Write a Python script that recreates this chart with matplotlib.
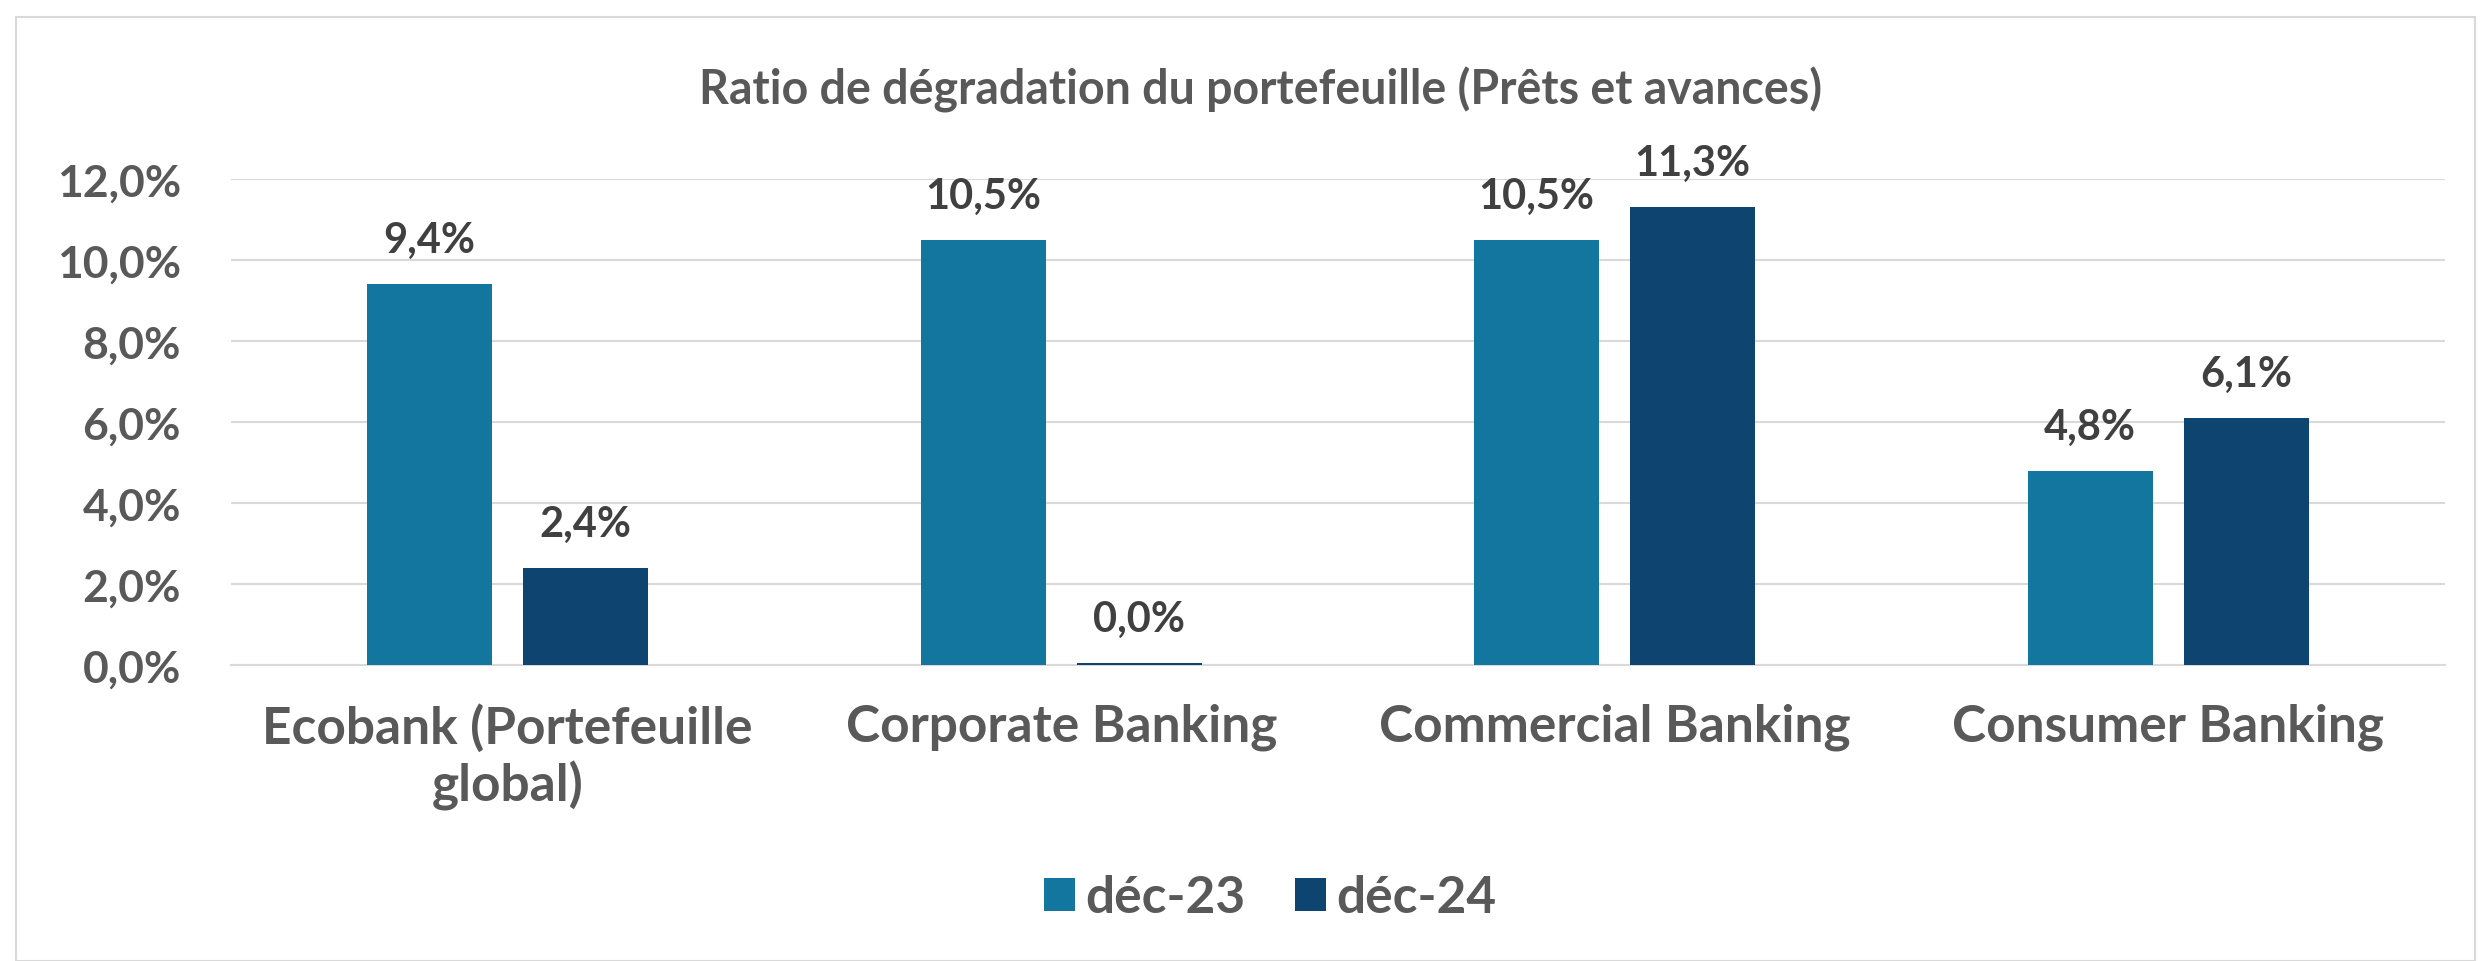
import matplotlib.pyplot as plt
from matplotlib.patches import Patch, Rectangle
import numpy as np

categories = ["Ecobank (Portefeuille\nglobal)", "Corporate Banking",
              "Commercial Banking", "Consumer Banking"]
series_names = ["déc-23", "déc-24"]
dec23 = [9.4, 10.5, 10.5, 4.8]
dec24 = [2.4, 0.05, 11.3, 6.1]
labels23 = ["9,4%", "10,5%", "10,5%", "4,8%"]
labels24 = ["2,4%", "0,0%", "11,3%", "6,1%"]
yticks = [0, 2, 4, 6, 8, 10, 12]
ytick_labels = ["0,0%", "2,0%", "4,0%", "6,0%", "8,0%", "10,0%", "12,0%"]

col23 = "#12769e"
col24 = "#0e4470"
txt = "#595959"
lbl = "#404040"
grid = "#d9d9d9"

plt.rcParams['font.family'] = ['Lato', 'DejaVu Sans']
plt.rcParams['font.weight'] = 'bold'

W, H = 2483, 962
fig = plt.figure(figsize=(W / 100, H / 100), dpi=100)

# outer frame
fig.patches.append(Rectangle((16 / W, 0), (2475 - 16) / W, 1 - 18 / H,
                             transform=fig.transFigure, fill=False,
                             edgecolor=grid, linewidth=1.5))

ax = fig.add_axes([231 / W, 1 - 666 / H, (2445 - 231) / W, (666 - 180) / H])

x = np.arange(len(categories))
bw = 0.226
off = 0.141
b1 = ax.bar(x - off, dec23, bw, color=col23, zorder=3)
b2 = ax.bar(x + off, dec24, bw, color=col24, zorder=3)

for bars, labs in ((b1, labels23), (b2, labels24)):
    for r, s in zip(bars, labs):
        ax.annotate(s, (r.get_x() + r.get_width() / 2, r.get_height()),
                    xytext=(0, 23), textcoords="offset points",
                    ha="center", va="baseline", fontsize=30,
                    fontweight="bold", color=lbl)

ax.set_xlim(-0.5, 3.5)
ax.set_ylim(0, 12)
ax.set_yticks(yticks)
ax.set_yticklabels(ytick_labels, fontsize=32, fontweight="bold", color=txt)
ax.set_xticks(x)
ax.set_xticklabels(categories, fontsize=37, fontweight="bold", color=txt,
                   linespacing=1.2)
ax.tick_params(axis="both", length=0)
ax.tick_params(axis="y", pad=36)
ax.tick_params(axis="x", pad=27)
ax.grid(axis="y", color=grid, linewidth=1.5, zorder=0)
for sp in ["top", "right", "left"]:
    ax.spines[sp].set_visible(False)
ax.spines["bottom"].set_color(grid)
ax.spines["bottom"].set_linewidth(1.5)

fig.text(1261 / W, 1 - 90 / H,
         "Ratio de dégradation du portefeuille (Prêts et avances)",
         ha="center", va="center", fontsize=33.5, fontweight="bold", color=txt)

handles = [Patch(facecolor=col23), Patch(facecolor=col24)]
fig.legend(handles, series_names, loc="center",
           bbox_to_anchor=(1270 / W, 1 - 899 / H), ncol=2, frameon=False,
           handlelength=0.6, handleheight=0.62,
           handletextpad=0.2, columnspacing=0.97,
           labelcolor=txt, prop={"weight": "bold", "size": 37})

fig.savefig("out.png", dpi=100)
